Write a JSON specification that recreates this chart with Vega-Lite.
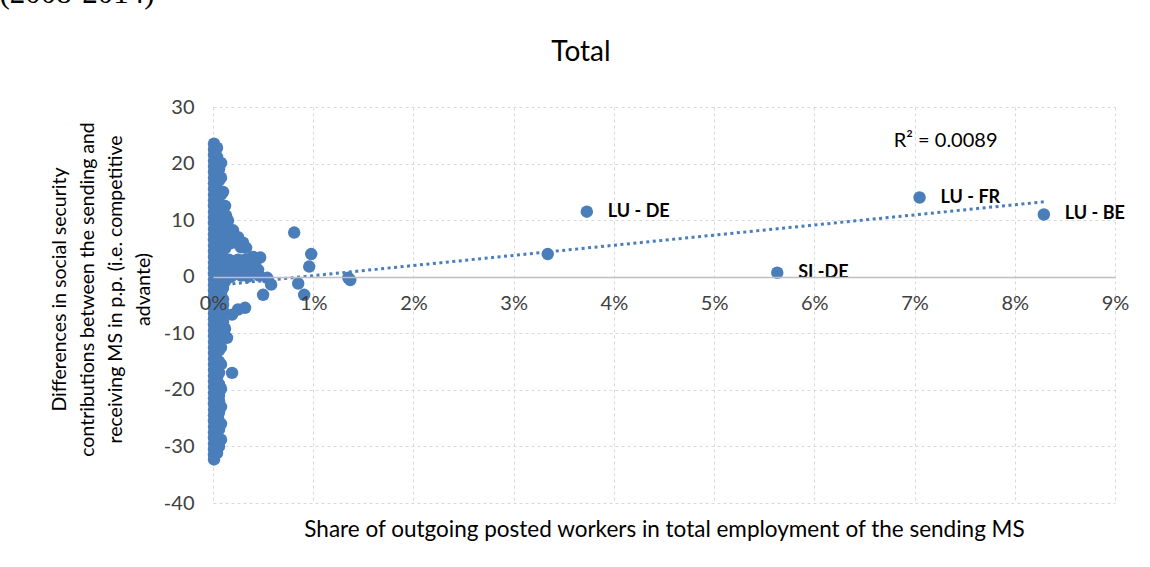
{
  "$schema": "https://vega.github.io/schema/vega-lite/v6.json",
  "width": 902,
  "height": 396,
  "autosize": "none",
  "padding": {"left": 213, "top": 107, "right": 35, "bottom": 64},
  "background": "white",
  "config": {"view": {"stroke": null}, "font": "Lato"},
  "title": {"text": "Total", "font": "Lato", "fontSize": 28, "fontWeight": "normal", "color": "#000000", "anchor": "middle", "dx": -83, "offset": -89},
  "datasets": {
    "pts": [
      {"x":0.0001,"y":23.5},{"x":0.0001,"y":22.5},{"x":0.0001,"y":21.5},{"x":0.0001,"y":20.5},{"x":0.0001,"y":19.5},{"x":0.0001,"y":18.5},{"x":0.0001,"y":17.5},{"x":0.0001,"y":16.5},{"x":0.0001,"y":15.5},{"x":0.0001,"y":14.5},{"x":0.0001,"y":13.5},{"x":0.0001,"y":12.5},{"x":0.0001,"y":11.5},{"x":0.0001,"y":10.5},{"x":0.0001,"y":9.5},{"x":0.0001,"y":8.5},{"x":0.0001,"y":7.5},{"x":0.0001,"y":6.5},{"x":0.0001,"y":5.5},{"x":0.0001,"y":4.5},{"x":0.0001,"y":3.5},{"x":0.0001,"y":2.5},{"x":0.0001,"y":1.5},{"x":0.0001,"y":0.5},{"x":0.0001,"y":-0.5},{"x":0.0001,"y":-1.5},{"x":0.0001,"y":-2.5},{"x":0.0001,"y":-3.5},{"x":0.0001,"y":-4.5},{"x":0.0001,"y":-5.5},{"x":0.0001,"y":-6.5},{"x":0.0001,"y":-7.5},{"x":0.0001,"y":-8.5},{"x":0.0001,"y":-9.5},{"x":0.0001,"y":-10.5},{"x":0.0001,"y":-11.5},{"x":0.0001,"y":-12.5},{"x":0.0001,"y":-13.5},{"x":0.0001,"y":-14.5},{"x":0.0001,"y":-15.5},{"x":0.0001,"y":-16.5},{"x":0.0001,"y":-17.5},{"x":0.0001,"y":-18.5},{"x":0.0001,"y":-19.5},{"x":0.0001,"y":-20.5},{"x":0.0001,"y":-21.5},{"x":0.0001,"y":-22.5},{"x":0.0001,"y":-23.5},{"x":0.0001,"y":-24.5},{"x":0.0001,"y":-25.5},{"x":0.0001,"y":-26.5},{"x":0.0001,"y":-27.5},{"x":0.0001,"y":-28.5},{"x":0.0001,"y":-29.5},{"x":0.0001,"y":-30.5},{"x":0.0001,"y":-31.5},{"x":0.0001,"y":-32.3},
      {"x":0.0004,"y":22.8},{"x":0.0004,"y":21.2},{"x":0.0004,"y":19.8},{"x":0.0004,"y":18.3},{"x":0.0004,"y":16.8},{"x":0.0004,"y":15.2},{"x":0.0004,"y":13.8},{"x":0.0004,"y":12.2},{"x":0.0004,"y":10.8},{"x":0.0004,"y":9.3},{"x":0.0004,"y":7.8},{"x":0.0004,"y":6.2},{"x":0.0004,"y":4.8},{"x":0.0004,"y":3.3},{"x":0.0004,"y":1.8},{"x":0.0004,"y":0.2},{"x":0.0004,"y":-1.3},{"x":0.0004,"y":-2.8},{"x":0.0004,"y":-4.3},{"x":0.0004,"y":-5.8},{"x":0.0004,"y":-7.3},{"x":0.0004,"y":-8.8},{"x":0.0004,"y":-10.3},{"x":0.0004,"y":-11.8},{"x":0.0004,"y":-13.3},{"x":0.0004,"y":-14.8},{"x":0.0004,"y":-16.3},{"x":0.0004,"y":-17.8},{"x":0.0004,"y":-19.3},{"x":0.0004,"y":-20.8},{"x":0.0004,"y":-22.3},{"x":0.0004,"y":-23.8},{"x":0.0004,"y":-25.3},{"x":0.0004,"y":-26.8},{"x":0.0004,"y":-28.3},{"x":0.0004,"y":-29.8},{"x":0.0004,"y":-31.2},
      {"x":0.0006,"y":19.0},{"x":0.0006,"y":17.0},{"x":0.0006,"y":15.0},{"x":0.0006,"y":13.0},{"x":0.0006,"y":11.0},{"x":0.0006,"y":9.0},{"x":0.0006,"y":7.0},{"x":0.0006,"y":5.0},{"x":0.0006,"y":3.0},{"x":0.0006,"y":1.0},{"x":0.0006,"y":-1.0},{"x":0.0006,"y":-3.0},{"x":0.0006,"y":-5.0},{"x":0.0006,"y":-7.0},{"x":0.0006,"y":-9.0},{"x":0.0006,"y":-11.0},{"x":0.0006,"y":-13.0},{"x":0.0006,"y":-17.0},{"x":0.0006,"y":-19.0},{"x":0.0006,"y":-21.0},{"x":0.0006,"y":-24.0},{"x":0.0006,"y":-27.0},{"x":0.0006,"y":-30.0},
      {"x":0.0008,"y":20.1},{"x":0.0008,"y":17.5},{"x":0.0008,"y":14.5},{"x":0.0008,"y":12.0},{"x":0.0008,"y":10.0},{"x":0.0008,"y":8.5},{"x":0.0008,"y":6.8},{"x":0.0008,"y":5.2},{"x":0.0008,"y":3.8},{"x":0.0008,"y":2.2},{"x":0.0008,"y":0.8},{"x":0.0008,"y":-0.8},{"x":0.0008,"y":-2.2},{"x":0.0008,"y":-3.8},{"x":0.0008,"y":-5.5},{"x":0.0008,"y":-7.5},{"x":0.0008,"y":-9.5},{"x":0.0008,"y":-12.5},{"x":0.0008,"y":-15.5},{"x":0.0008,"y":-19.8},{"x":0.0008,"y":-23.0},{"x":0.0008,"y":-26.0},{"x":0.0008,"y":-28.8},
      {"x":0.0010,"y":15.0},{"x":0.0012,"y":12.5},{"x":0.0013,"y":10.8},{"x":0.0015,"y":9.9},{"x":0.0012,"y":8.0},{"x":0.0020,"y":8.2},{"x":0.0025,"y":7.0},{"x":0.0030,"y":6.0},{"x":0.0033,"y":5.1},{"x":0.0018,"y":6.5},{"x":0.0012,"y":3.0},{"x":0.0020,"y":2.5},{"x":0.0027,"y":2.0},{"x":0.0033,"y":1.6},{"x":0.0038,"y":0.7},{"x":0.0040,"y":3.5},{"x":0.0047,"y":3.4},{"x":0.0022,"y":1.0},{"x":0.0015,"y":0.5},{"x":0.0028,"y":0.2},{"x":0.0012,"y":-0.8},{"x":0.0054,"y":-0.2},{"x":0.0058,"y":-1.4},{"x":0.0050,"y":-3.2},{"x":0.0032,"y":-5.5},{"x":0.0025,"y":-5.8},{"x":0.0019,"y":-6.7},{"x":0.0014,"y":-10.8},{"x":0.0019,"y":-17.0},{"x":0.0007,"y":-20.0},{"x":0.0008,"y":-3.0},{"x":0.0010,"y":-5.0},{"x":0.0006,"y":-15.0},{"x":0.0006,"y":-22.0},{"x":0.0005,"y":-25.0},
      {"x":0.0010,"y":12.0},{"x":0.0011,"y":9.0},{"x":0.0016,"y":8.0},{"x":0.0012,"y":7.0},{"x":0.0018,"y":7.2},{"x":0.0010,"y":6.0},{"x":0.0016,"y":5.8},{"x":0.0023,"y":6.0},{"x":0.0012,"y":5.0},{"x":0.0028,"y":5.2},{"x":0.0016,"y":3.0},{"x":0.0025,"y":3.0},{"x":0.0032,"y":3.0},{"x":0.0010,"y":2.0},{"x":0.0018,"y":1.8},{"x":0.0036,"y":2.0},{"x":0.0042,"y":2.2},{"x":0.0012,"y":1.0},{"x":0.0030,"y":1.0},{"x":0.0045,"y":1.2},{"x":0.0018,"y":0.0},{"x":0.0035,"y":0.0},{"x":0.0046,"y":0.2},{"x":0.0010,"y":-2.0},{"x":0.0010,"y":-4.0},{"x":0.0010,"y":-6.0},{"x":0.0010,"y":-8.0},{"x":0.0012,"y":-9.2},
      {"x":0.0081,"y":7.8},{"x":0.0098,"y":4.0},{"x":0.0096,"y":1.8},{"x":0.0085,"y":-1.2},{"x":0.0091,"y":-3.2},{"x":0.0137,"y":-0.6},{"x":0.0135,"y":-0.2},{"x":0.0334,"y":4.0},
      {"x":0.0373,"y":11.5,"label":"LU - DE"},{"x":0.0705,"y":14.0,"label":"LU - FR"},{"x":0.0829,"y":11.0,"label":"LU - BE"},{"x":0.0563,"y":0.7,"label":"SI -DE"}
    ],
    "trend": [{"x":0.0,"y":-1.6},{"x":0.0829,"y":13.24}],
    "notes": [{"x":0.0731,"y":24.0,"label":"R² = 0.0089"}],
    "caption": [{"x":-0.0213,"y":48.3,"label":"(2008-2014)"}]
  },
  "layer": [
    {
      "data": {"name": "pts"},
      "mark": {"type": "circle", "size": 155, "opacity": 1, "color": "#4a7ebb"},
      "encoding": {
        "x": {"field": "x", "type": "quantitative", "scale": {"domain": [0, 0.09], "nice": false, "zero": false},
          "axis": {"orient": "bottom", "values": [0,0.01,0.02,0.03,0.04,0.05,0.06,0.07,0.08,0.09], "grid": true, "gridColor": "#d9d9d9", "gridDash": [3,3], "gridWidth": 1, "labels": false, "ticks": false, "domain": false, "title": null}},
        "y": {"field": "y", "type": "quantitative", "scale": {"domain": [-40, 30], "nice": false, "zero": false},
          "axis": {"values": [-40,-30,-20,-10,0,10,20,30], "grid": true, "gridColor": "#d9d9d9", "gridDash": [3,3], "gridWidth": 1, "domain": false, "ticks": false,
            "labelFont": "Lato", "labelFontSize": 20, "labelColor": "#404040", "labelPadding": 19, "labelExpr": "'' + datum.value",
            "title": ["Differences in social security", "contributions between the sending and", "receiving MS in p.p. (i.e. competitive", "advante)"],
            "titleFont": "Lato", "titleFontSize": 19.5, "titleFontWeight": "normal", "titleColor": "#000000", "titleLineHeight": 28, "titlePadding": 10, "titleY": 182}}
      }
    },
    {
      "data": {"name": "trend"},
      "mark": {"type": "line", "color": "#4a7ebb", "strokeWidth": 3, "strokeDash": [3, 3.5]},
      "encoding": {
        "x": {"field": "x", "type": "quantitative",
          "axis": {"orient": "bottom", "values": [0,0.01,0.02,0.03,0.04,0.05,0.06,0.07,0.08,0.09], "format": ".0%", "offset": -226, "grid": false, "ticks": false, "domain": true, "domainColor": "#bfbfbf", "domainWidth": 1.5,
            "labelFont": "Lato", "labelFontSize": 20, "labelColor": "#404040", "labelPadding": 16, "labelFlush": false, "zindex": 1,
            "title": "Share of  outgoing posted workers in total employment of the sending MS", "titleFont": "Lato", "titleFontSize": 22.5, "titleFontWeight": "normal", "titleColor": "#000000", "titleY": 259, "titleBaseline": "alphabetic"}},
        "y": {"field": "y", "type": "quantitative"}
      }
    },
    {
      "data": {"name": "pts"},
      "transform": [{"filter": "isValid(datum.label)"}],
      "mark": {"type": "text", "align": "left", "baseline": "middle", "dx": 21, "font": "Lato", "fontSize": 18, "fontWeight": "bold", "color": "#000000"},
      "encoding": {
        "x": {"field": "x", "type": "quantitative", "axis": null},
        "y": {"field": "y", "type": "quantitative"},
        "text": {"field": "label"}
      }
    },
    {
      "data": {"name": "notes"},
      "mark": {"type": "text", "align": "center", "baseline": "middle", "font": "Lato", "fontSize": 20, "color": "#000000"},
      "encoding": {
        "x": {"field": "x", "type": "quantitative", "axis": null},
        "y": {"field": "y", "type": "quantitative"},
        "text": {"field": "label"}
      }
    },
    {
      "data": {"name": "caption"},
      "mark": {"type": "text", "align": "left", "baseline": "alphabetic", "font": "Liberation Serif", "fontSize": 31, "color": "#000000"},
      "encoding": {
        "x": {"field": "x", "type": "quantitative", "axis": null},
        "y": {"field": "y", "type": "quantitative"},
        "text": {"field": "label"}
      }
    }
  ],
  "resolve": {"axis": {"x": "independent"}}
}
